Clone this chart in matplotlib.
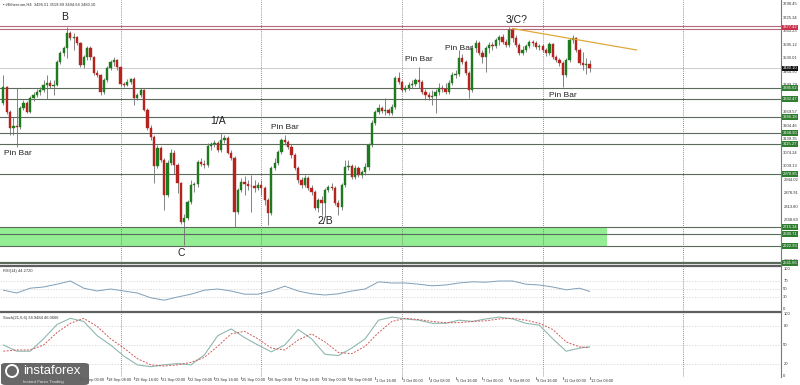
import matplotlib
matplotlib.use("Agg")
import matplotlib.pyplot as plt
from matplotlib.patches import FancyBboxPatch, Ellipse
from matplotlib.lines import Line2D
from matplotlib.transforms import blended_transform_factory

plt.rcParams['font.family'] = ['Liberation Sans', 'DejaVu Sans']

# ---------------- data (ETHUSD H4) ----------------
opens = [3313,3390,3270,3193,3202,3197,3289,3313,3270,3337,
         3352,3366,3376,3400,3410,3395,3400,3511,3554,3578,
         3651,3627,3632,3603,3497,3535,3578,3535,3458,3448,
         3366,3424,3482,3511,3521,3487,3405,3400,3415,3429,
         3337,3352,3376,3279,3193,3149,3009,3096,3038,2870,
         3024,3072,3014,2927,2739,2759,2836,2918,2923,3029,
         3019,3014,3106,3115,3120,3087,3135,3144,3072,3048,
         2788,2894,2932,2923,2913,2911,2903,2918,2903,2845,
         2783,3000,3024,3077,3135,3125,3101,3062,3000,2942,
         2918,2951,2903,2884,2807,2845,2831,2894,2908,2903,
         2831,2812,2918,3005,3009,2956,3000,2966,2980,3005,
         3111,3217,3270,3289,3275,3279,3265,3294,3434,3415,
         3376,3386,3400,3405,3424,3415,3366,3352,3342,3347,
         3366,3386,3381,3366,3410,3448,3453,3530,3511,3458,
         3376,3578,3603,3554,3535,3578,3593,3588,3617,3632,
         3607,3593,3665,3627,3593,3554,3569,3588,3607,3603,
         3583,3588,3569,3554,3598,3535,3521,3506,3448,3521,
         3617,3627,3569,3506,3497,3501]
highs = [3448,3395,3279,3246,3386,3299,3328,3323,3347,3366,
         3381,3390,3424,3448,3424,3424,3521,3564,3588,3680,
         3660,3651,3636,3607,3545,3588,3588,3540,3472,3453,
         3434,3492,3521,3535,3525,3492,3415,3429,3434,3439,
         3361,3386,3381,3289,3207,3159,3111,3106,3048,3038,
         3091,3087,3024,2932,2778,2845,2942,2932,3038,3048,
         3038,3120,3125,3135,3130,3169,3159,3154,3087,3058,
         2903,2951,2961,2942,2966,2942,2932,2942,2913,2855,
         3009,3048,3087,3144,3159,3135,3115,3072,3009,2956,
         2966,2961,2918,2894,2855,2865,2903,2918,2927,2913,
         2845,2927,3038,3038,3019,3014,3009,2990,3024,3120,
         3231,3279,3308,3299,3337,3289,3308,3443,3463,3424,
         3400,3415,3424,3434,3487,3424,3381,3366,3376,3381,
         3410,3400,3410,3424,3463,3472,3569,3550,3521,3468,
         3593,3617,3612,3569,3588,3607,3607,3627,3641,3646,
         3622,3680,3675,3641,3603,3588,3598,3617,3617,3612,
         3598,3598,3578,3607,3603,3545,3530,3516,3530,3627,
         3641,3632,3578,3559,3530,3521]
lows = [3304,3260,3159,3159,3101,3188,3279,3265,3265,3323,
        3342,3352,3366,3332,3386,3352,3395,3501,3540,3530,
        3617,3569,3593,3487,3482,3521,3521,3448,3439,3352,
        3357,3415,3472,3492,3472,3395,3390,3395,3405,3304,
        3328,3342,3275,3183,3135,2927,3000,3029,2797,2860,
        3014,2971,2879,2730,2628,2749,2826,2884,2908,3009,
        3000,3005,3087,3101,3077,3077,3120,3067,3038,2715,
        2778,2884,2870,2894,2788,2884,2894,2870,2821,2725,
        2773,2990,3014,3067,3111,3091,3048,2990,2927,2903,
        2908,2894,2870,2797,2788,2773,2768,2884,2894,2821,
        2773,2797,2908,2990,2947,2947,2956,2951,2966,2990,
        3101,3207,3260,3265,3255,3255,3255,3284,3405,3366,
        3366,3376,3386,3395,3386,3357,3328,3328,3304,3265,
        3352,3366,3357,3357,3400,3434,3443,3501,3448,3337,
        3366,3559,3545,3506,3463,3554,3569,3578,3593,3598,
        3583,3583,3607,3583,3545,3545,3559,3578,3588,3574,
        3569,3559,3540,3545,3525,3511,3492,3390,3439,3511,
        3603,3559,3497,3472,3453,3463]
closes = [3390,3270,3193,3202,3197,3289,3313,3270,3337,3352,
          3366,3376,3400,3410,3395,3400,3511,3554,3578,3651,
          3627,3632,3603,3497,3535,3578,3535,3458,3448,3366,
          3424,3482,3511,3521,3487,3405,3400,3415,3429,3337,
          3352,3376,3279,3193,3149,3009,3096,3038,2870,3024,
          3072,3014,2927,2739,2759,2836,2918,2923,3029,3019,
          3014,3106,3115,3120,3087,3135,3144,3072,3048,2788,
          2894,2932,2923,2913,2911,2903,2918,2903,2845,2783,
          3000,3024,3077,3135,3125,3101,3062,3000,2942,2918,
          2951,2903,2884,2807,2845,2831,2894,2908,2903,2831,
          2812,2918,3005,3009,2956,3000,2966,2980,3005,3111,
          3217,3270,3289,3275,3279,3265,3294,3434,3415,3376,
          3386,3400,3405,3424,3415,3366,3352,3342,3347,3366,
          3386,3381,3366,3410,3448,3453,3530,3511,3458,3376,
          3578,3603,3554,3535,3578,3593,3588,3617,3632,3607,
          3593,3665,3627,3593,3554,3569,3588,3607,3603,3583,
          3588,3569,3554,3598,3535,3521,3506,3448,3521,3617,
          3627,3569,3506,3497,3501,3480]

# oscillator readings (sampled bars)
osc_bars = [0,4,8,12,16,20,24,28,32,36,40,44,48,52,56,60,64,68,72,76,80,84,88,
            92,96,100,104,108,112,116,120,124,128,132,136,140,144,148,152,156,160,164,168,172,175]
rsi_vals = [47,40,52,55,62,70,52,45,50,45,40,28,22,30,37,47,50,45,37,37,45,57,45,
            38,35,38,45,50,68,65,65,62,58,60,65,68,67,70,70,62,60,55,48,52,44]
stoch_main = [50,40,40,60,83,93,88,65,50,32,18,15,18,20,18,34,65,76,62,50,39,50,75,
              60,35,33,45,60,90,95,92,90,85,85,90,88,92,95,92,85,82,60,40,45,47]
stoch_sig = [40,42,42,50,70,85,93,80,60,45,28,18,16,18,22,30,48,68,72,60,45,42,58,
             68,55,38,36,48,70,88,93,91,88,86,86,88,89,92,93,90,85,75,55,47,46]

price_ticks = [3790.45,3725.34,3660.23,3595.12,3530.01,3464.90,3399.79,3334.68,3269.57,
               3204.46,3139.35,3074.24,3009.13,2944.02,2878.91,2813.80,2748.69,2683.58,
               2618.47,2553.36]
level_prices = [3385.62,3332.47,3246.18,3168.90,3115.27,2970.85,2715.34,2680.71,2622.93,2541.66]
resist_prices = [3684.80,3670.10]
resist_label = 3677.42
last_price = 3480.10
zone_low, zone_high = 2622.93, 2715.34
zone_end_bar = 180.2
trend_bars = [152, 189]
trend_prices = [3672.5, 3569.0]
week_seps = [35, 77, 119, 161, 203]

date_bars = [23,31,39,47,55,63,71,79,87,95,103,111,119,127,135,143,151,159,167,175]
date_labels = ["17 Sep 00:00","18 Sep 08:00","19 Sep 16:00",
               "21 Sep 00:00","22 Sep 08:00","23 Sep 16:00","25 Sep 00:00","26 Sep 08:00",
               "27 Sep 16:00","29 Sep 00:00","30 Sep 08:00","1 Oct 16:00","3 Oct 00:00",
               "4 Oct 08:00","5 Oct 16:00","7 Oct 00:00","8 Oct 08:00","9 Oct 16:00",
               "11 Oct 00:00","12 Oct 08:00"]

annotations = [("B", 18.4, 3728, 7.5), ("1/A", 64.1, 3226, 7.5), ("C", 53.0, 2590, 7.5),
               ("Pin Bar", 4.4, 3072, 6), ("Pin Bar", 84.1, 3193, 6), ("2/B", 96.0, 2744, 7.5),
               ("Pin Bar", 124.1, 3521, 6), ("Pin Bar", 136.0, 3578, 6), ("3/C?", 153.3, 3714, 7.5),
               ("Pin Bar", 167.0, 3347, 6)]

# ---------------- figure ----------------
W, H = 800, 385
fig = plt.figure(figsize=(W / 100, H / 100), dpi=100)
fig.patch.set_facecolor("white")

def px_axes(x0, y0, x1, y1):
    a = fig.add_axes([x0 / W, 1 - y1 / H, (x1 - x0) / W, (y1 - y0) / H])
    a.set_facecolor("none")
    for s in a.spines.values():
        s.set_visible(False)
    a.set_xticks([])
    a.set_yticks([])
    return a

PLOT_R = 781
XMIN, XMAX = -1, PLOT_R / 3.35 - 1
GREEN = "#1f7a1f"
RED = "#b5231f"
WICK = "#6f6f6f"
LVL = "#5b6b5b"
LBL = 3.0
SMALL = 2.9

ax = px_axes(0, 0, PLOT_R, 265)
ax.set_xlim(XMIN, XMAX)
ax.set_ylim(2531.9, 3810.0)
tr = blended_transform_factory(ax.transAxes, ax.transData)

# zone
ax.axhspan(zone_low, zone_high, xmin=0, xmax=(zone_end_bar - XMIN) / (XMAX - XMIN),
           color="#93ee93", zorder=0.5, lw=0)

# levels
for p in level_prices:
    lw = 1.6 if p == level_prices[-1] else 0.8
    ax.axhline(p, color=LVL, lw=lw, zorder=1)
for p in resist_prices:
    ax.axhline(p, color="#b46a78", lw=0.8, zorder=1)
ax.axhline(last_price, color="#c4c4c4", lw=0.6, zorder=1)

for s in week_seps:
    ax.axvline(s, color="#6a6a6a", lw=0.6, ls=(0, (1, 1.5)), zorder=1)

# candles
idx = list(range(len(closes)))
cols = [GREEN if c >= o else RED for o, c in zip(opens, closes)]
ax.vlines(idx, lows, highs, color=WICK, lw=0.6, zorder=3)
bottoms = [min(o, c) for o, c in zip(opens, closes)]
heights = [max(abs(c - o), 2.0) for o, c in zip(opens, closes)]
ax.bar(idx, heights, bottom=bottoms, width=0.66, color=cols, edgecolor=cols, lw=0.3, zorder=4)

# trend line
ax.plot(trend_bars, trend_prices, color="#e0a83a", lw=0.9, zorder=5)

# annotations
for txt, xb, yp, fs in annotations:
    ax.text(xb, yp, txt, fontsize=fs, ha="center", va="center", color="#222222", zorder=6)

# title
ax.text(0.004, 3790.45, "\u25aa #Ethereum,H4  3496.51 3519.89 3494.64 3480.10", transform=tr,
        fontsize=SMALL, va="center", ha="left", color="#333333")

# right price scale
for p in price_ticks:
    ax.text(1.003, p, f"{p:.2f}", transform=tr, fontsize=LBL, va="center", ha="left",
            color="#333333", clip_on=False, zorder=2)
box = dict(boxstyle="square,pad=0.18", ec="none")
for p in level_prices:
    ax.text(1.002, p, f"{p:.2f}", transform=tr, fontsize=LBL, va="center", ha="left",
            color="white", clip_on=False, zorder=8, bbox=dict(box, fc="#2f7d2f"))
ax.text(1.002, resist_label, f"{resist_label:.2f}", transform=tr, fontsize=LBL, va="center",
        ha="left", color="white", clip_on=False, zorder=8, bbox=dict(box, fc="#c8324a"))
ax.text(1.002, last_price, f"{last_price:.2f}", transform=tr, fontsize=LBL, va="center",
        ha="left", color="white", clip_on=False, zorder=8, bbox=dict(box, fc="#111111"))

# ---------------- RSI ----------------
axr = px_axes(0, 267, PLOT_R, 311)
axr.set_xlim(XMIN, XMAX)
axr.set_ylim(-5, 105)
trr = blended_transform_factory(axr.transAxes, axr.transData)
for lv in [70, 50, 30]:
    axr.axhline(lv, color="#d0d0d0", lw=0.5, ls=(0, (2, 2)))
for s in week_seps:
    axr.axvline(s, color="#6a6a6a", lw=0.6, ls=(0, (1, 1.5)))
axr.plot(osc_bars, rsi_vals, color="#7f9fb8", lw=0.7)
axr.text(0.004, 99, "RSI(14) 44.2720", transform=trr, fontsize=SMALL, va="top", ha="left", color="#333333")
for lv in [100, 70, 50, 30, 0]:
    axr.text(1.003, lv, str(lv), transform=trr, fontsize=LBL, va="center", ha="left",
             color="#333333", clip_on=False)

# ---------------- Stochastic ----------------
axs = px_axes(0, 312, PLOT_R, 377)
axs.set_xlim(XMIN, XMAX)
axs.set_ylim(-1.6, 103.2)
trs = blended_transform_factory(axs.transAxes, axs.transData)
for lv in [80, 50, 20]:
    axs.axhline(lv, color="#d0d0d0", lw=0.5, ls=(0, (2, 2)))
for s in week_seps:
    axs.axvline(s, color="#6a6a6a", lw=0.6, ls=(0, (1, 1.5)))
axs.plot(osc_bars, stoch_main, color="#8fb8b0", lw=0.8)
axs.plot(osc_bars, stoch_sig, color="#cf5a5a", lw=0.7, ls=(0, (2, 1.5)))
axs.text(0.004, 96, "Stoch(21,6,6) 34.9484 46.0606", transform=trs, fontsize=SMALL, va="top",
         ha="left", color="#333333")
for lv in [100, 80, 50, 20, 0]:
    axs.text(1.003, lv, str(lv), transform=trs, fontsize=LBL, va="center", ha="left",
             color="#333333", clip_on=False)

# panel separators and right border
fig.add_artist(Line2D([0, PLOT_R / W], [1 - 266 / H, 1 - 266 / H], color="#5f5f5f", lw=1.6))
fig.add_artist(Line2D([0, PLOT_R / W], [1 - 311.5 / H, 1 - 311.5 / H], color="#5f5f5f", lw=1.6))
fig.add_artist(Line2D([PLOT_R / W, PLOT_R / W], [1 - 377 / H, 1.0], color="#7a7a7a", lw=0.8))

# x-axis date labels
for b, lab in zip(date_bars, date_labels):
    xp = 3.35 * (b + 1)
    fig.text((xp + 1) / W, 1 - 380.5 / H, lab, fontsize=2.8, ha="left", va="center", color="#333333")
    fig.add_artist(Line2D([xp / W, xp / W], [1 - 377 / H, 1 - 379 / H], color="#555555", lw=0.5))

# logo
logo = FancyBboxPatch((1 / W, 1 - 385 / H), 88 / W, 22 / H, boxstyle="round,pad=0,rounding_size=0.006",
                      transform=fig.transFigure, fc="#5a5a5a", ec="none", alpha=0.92, zorder=10)
fig.add_artist(logo)
fig.add_artist(Ellipse((12 / W, 1 - 371 / H), 12 / W, 12 / H, transform=fig.transFigure,
                       fc="none", ec="white", lw=1.4, zorder=11))
fig.text(23 / W, 1 - 371 / H, "instaforex", fontsize=9.5, color="white", ha="left", va="center", zorder=11)
fig.text(23 / W, 1 - 381.5 / H, "Instant Forex Trading", fontsize=3.2, color="#e0e0e0",
         ha="left", va="center", zorder=11)

fig.savefig("out.png", dpi=100)
